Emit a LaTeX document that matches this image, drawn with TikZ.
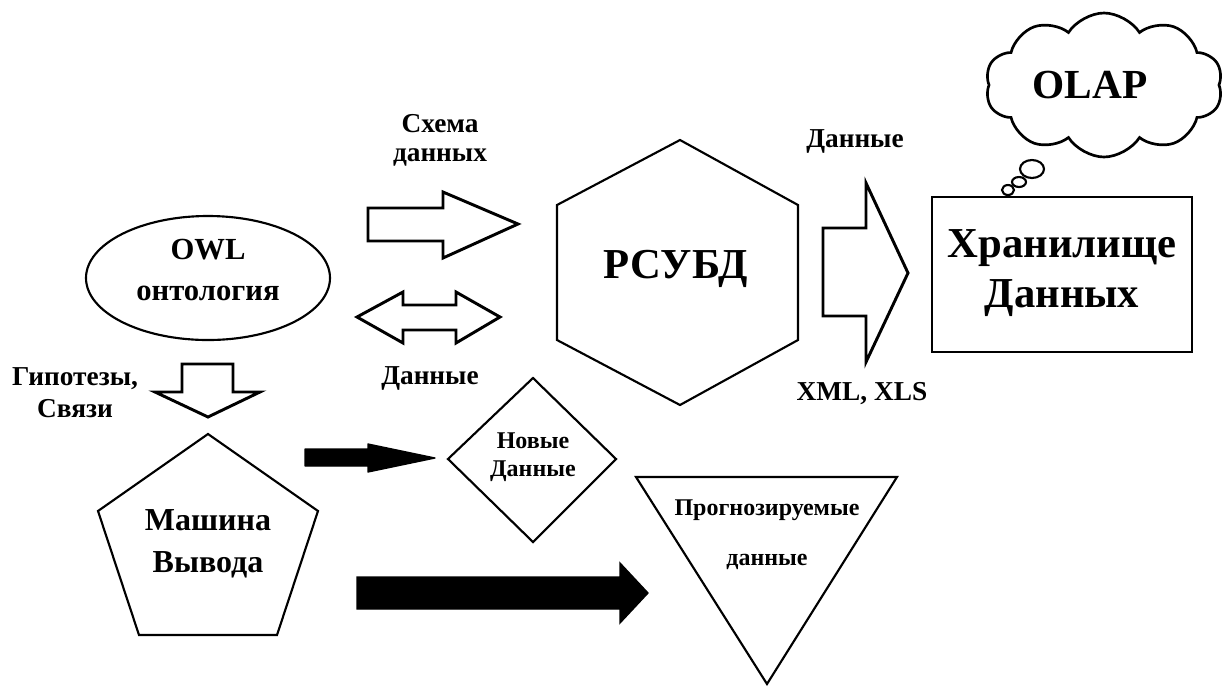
\documentclass[tikz,border=0pt]{standalone}
\usepackage{fontspec}
\setmainfont{Liberation Serif}
\usetikzlibrary{shapes.symbols}

\begin{document}
\begin{tikzpicture}[x=0.75pt,y=0.75pt,yscale=-1,
  thick line/.style={line width=2.2pt, line join=miter},
  thin line/.style={line width=1.6pt, line join=miter},
  label text/.style={font=\bfseries\fontsize{20.5}{22}\selectfont, align=center}]
\useasboundingbox (0,0) rectangle (1225,687);

%Shape: Ellipse [OWL]
\draw [thin line] (208,278) ellipse (122 and 62);
%Shape: Hexagon [RDBMS]
\draw [thin line] (680,140) -- (798,205) -- (798,340) -- (680,405) -- (557,340) -- (557,205) -- cycle;
%Shape: Rectangle [warehouse]
\draw [thick line] (932,197) rectangle (1192,352);
%Shape: Pentagon [inference]
\draw [thin line] (208,434) -- (318,511) -- (277,635) -- (139,635) -- (98,511) -- cycle;
%Shape: Diamond [new data]
\draw [thin line] (448,459) -- (533,378) -- (616,459) -- (533,542) -- cycle;
%Shape: Triangle [forecast]
\draw [thin line] (636,477) -- (897,477) -- (767,684) -- cycle;

%Shape: Cloud [OLAP]
\draw (1104,85) node (olapcloud) [cloud, draw, line width=2pt, cloud puffs=10, cloud puff arc=115, aspect=1.65, minimum width=178pt, minimum height=108pt] {};
\draw [thin line] (1032,169) ellipse (12 and 9);
\draw [thin line] (1019,182) ellipse (7 and 5);
\draw [thin line] (1008,190) ellipse (6 and 5);

%Shape: Right Arrow [schema]
\draw [thick line] (368,208) -- (443,208) -- (443,192) -- (518,224) -- (443,258) -- (443,241) -- (368,241) -- cycle;
%Shape: Left Right Arrow [data]
\draw [thick line] (357,317) -- (403,292) -- (403,305) -- (456,305) -- (456,292) -- (500,317) -- (456,343) -- (456,330) -- (403,330) -- (403,343) -- cycle;
%Shape: Right Arrow [export]
\draw [thick line] (823,228) -- (866,228) -- (866,183) -- (908,273) -- (866,362) -- (866,316) -- (823,316) -- cycle;
%Shape: Down Arrow [hypotheses]
\draw [thick line] (182,364) -- (233,364) -- (233,392) -- (260,392) -- (208,417) -- (155,392) -- (182,392) -- cycle;
%Shape: Right Arrow [black small]
\draw [fill=black, line width=1pt, line join=round] (305,449) -- (368,449) -- (368,444) -- (435,458) -- (368,472) -- (368,466) -- (305,466) -- cycle;
%Shape: Right Arrow [black big]
\draw [fill=black, line width=1pt] (357,577) -- (620,577) -- (620,563) -- (648,593) -- (620,623) -- (620,609) -- (357,609) -- cycle;

% Text Node
\draw (208,270) node (owl) [font=\bfseries\fontsize{23}{31}\selectfont, align=center] {OWL\\онтология};
% Text Node
\draw (676,269) node (rsubd) [font=\bfseries\fontsize{32}{38}\selectfont] {РСУБД};
% Text Node
\draw (1062,273) node (store) [font=\bfseries\fontsize{32}{37.5}\selectfont, align=center] {Хранилище\\Данных};
% Text Node
\draw (1090,85) node (olap) [font=\bfseries\fontsize{31}{36}\selectfont] {OLAP};
% Text Node
\draw (208,544) node (engine) [font=\bfseries\fontsize{24}{31.5}\selectfont, align=center] {Машина\\Вывода};
% Text Node
\draw (533,457) node (newdata) [font=\bfseries\fontsize{18}{21}\selectfont, align=center] {Новые\\Данные};
% Text Node
\draw (767,535) node (forecast) [font=\bfseries\fontsize{18}{37.5}\selectfont, align=center] {Прогнозируемые\\данные};
% Text Node
\draw (440,140) node (schema) [label text] {Схема\\данных};
% Text Node
\draw (430,378) node (datamid) [label text] {Данные};
% Text Node
\draw (855,141) node (datatop) [label text] {Данные};
% Text Node
\draw (862,394) node (xmlxls) [label text] {XML, XLS};
% Text Node
\draw (75,393) node (hypo) [font=\bfseries\fontsize{20.5}{24}\selectfont, align=center] {Гипотезы,\\Связи};
\end{tikzpicture}
\end{document}
